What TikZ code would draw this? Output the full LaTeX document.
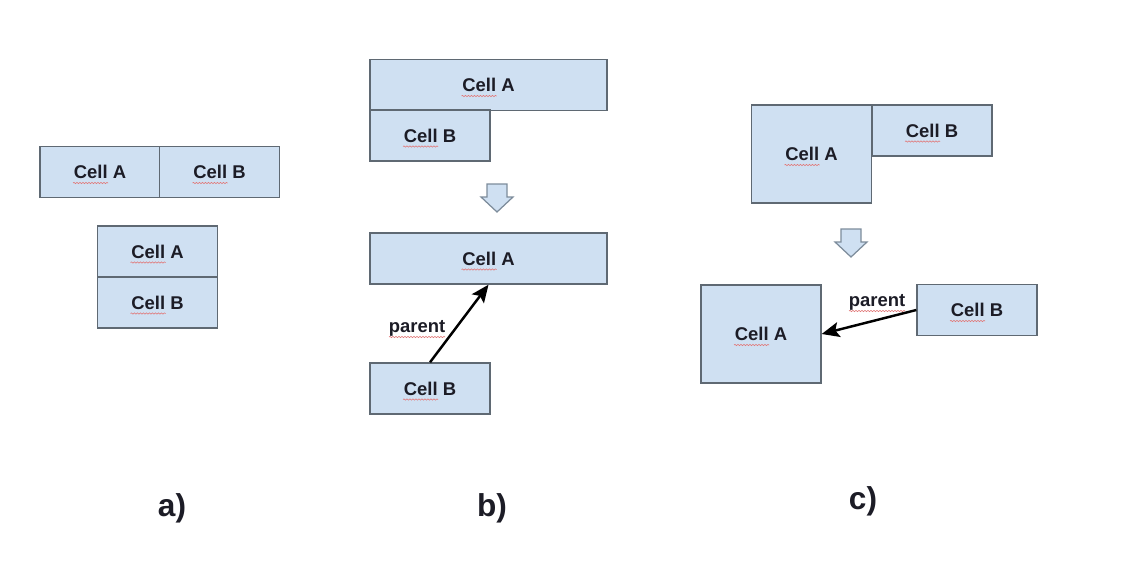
\documentclass[tikz,border=0pt]{standalone}
\usepackage{fontspec}
\setmainfont{Liberation Sans}
\usepackage{xcolor}
\definecolor{cellFill}{RGB}{207,224,242}
\definecolor{cellLine}{RGB}{95,105,115}
\definecolor{cellText}{RGB}{28,28,38}
\definecolor{arrowLine}{RGB}{125,140,155}
\definecolor{spellRed}{RGB}{225,120,120}
\usetikzlibrary{arrows.meta, decorations.pathmorphing}

\begin{document}
\begin{tikzpicture}[x=0.02cm, y=-0.02cm, >=Stealth,
		cell/.style={draw=cellLine, line width=0.8pt, fill=cellFill, text=cellText,
			font=\fontsize{10.5}{12}\selectfont\bfseries, inner sep=0pt,
			minimum width=2.4cm, minimum height=1.02cm},
		wide/.style={minimum width=4.74cm},
		tall/.style={minimum height=1.96cm},
		downarrow/.style={draw=arrowLine, line width=0.7pt, fill=cellFill, line join=miter},
		parent/.style={->, line width=1.4pt, >={Stealth[length=10pt, width=8.5pt, inset=2pt]}},
		ptxt/.style={text=cellText, font=\fontsize{10.5}{12}\selectfont\bfseries, inner sep=0pt},
		tag/.style={text=cellText, font=\fontsize{18}{20}\selectfont\bfseries, inner sep=0pt},
		spell/.style={draw=spellRed, line width=0.35pt,
			decorate, decoration={snake, segment length=0.06cm, amplitude=0.35pt}}]
	\useasboundingbox (0,0) rectangle (1146,581);

	% a) side by side, then stacked
	\node[cell] (aA1) at (100,172) {Cell A};
	\node[cell] (aB1) at (219.5,172) {Cell B};
	\node[cell] (aA2) at (157.5,251.5) {Cell A};
	\node[cell] (aB2) at (157.5,302.5) {Cell B};

	% b) wide cell above, B gets its own row
	\node[cell, wide] (bA1) at (488.5,85) {Cell A};
	\node[cell] (bB1) at (430,135.5) {Cell B};
	\node[cell, wide] (bA2) at (488.5,258.5) {Cell A};
	\node[cell] (bB2) at (430,388.5) {Cell B};

	% c) tall cell next to B
	\node[cell, tall] (cA1) at (811.5,154) {Cell A};
	\node[cell] (cB1) at (932,130.5) {Cell B};
	\node[cell, tall] (cA2) at (761,334) {Cell A};
	\node[cell] (cB2) at (977,310) {Cell B};

	\foreach \x/\y in {497/184, 851/229}{
		\draw[downarrow] (\x,\y) -- ++(10,0) -- ++(0,13) -- ++(6,0) -- (\x,\y+28)
			-- ++(-16,-15) -- ++(6,0) -- ++(0,-13) -- cycle;
	}

	\draw[parent] (bB2.north) -- (bA2.south);
	\draw[parent] (cB2.west) -- (cA2.east);
	\node[ptxt] (bPar) at (417,328) {parent};
	\node[ptxt] (cPar) at (877,302) {parent};

	% spell-check marks
	\foreach \n in {aA1,aB1,aA2,aB2,bA1,bB1,bA2,bB2,cA1,cB1,cA2,cB2}{
		\draw[spell] ([shift={(-27,11)}]\n.center) -- ++(35,0);
	}
	\foreach \n in {bPar,cPar}{
		\draw[spell] ([shift={(-28,9)}]\n.center) -- ++(56,0);
	}

	\node[tag] (labA) at (172,508) {a)};
	\node[tag] (labB) at (492,508) {b)};
	\node[tag] (labC) at (863,501) {c)};
\end{tikzpicture}
\end{document}
